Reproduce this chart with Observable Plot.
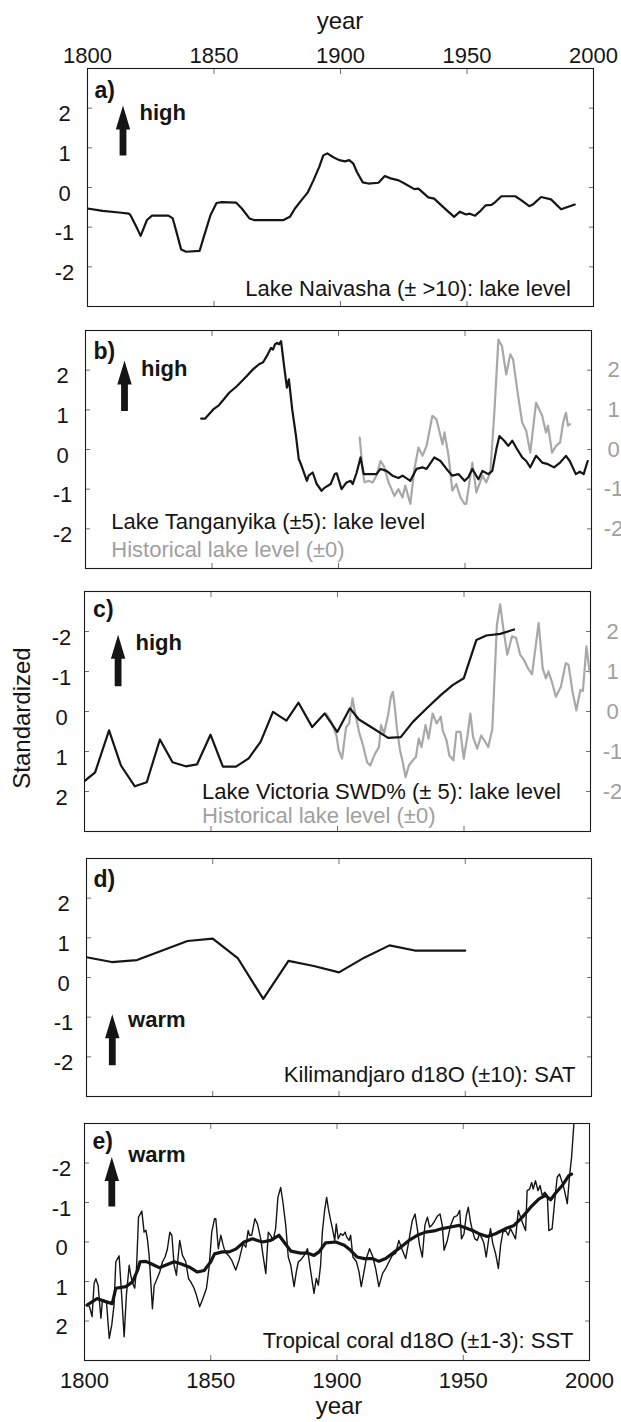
<!DOCTYPE html>
<html>
<head>
<meta charset="utf-8">
<script src="https://cdn.jsdelivr.net/npm/d3@7"></script>
<script src="https://cdn.jsdelivr.net/npm/@observablehq/plot@0.6"></script>
<style>
  html, body { margin: 0; padding: 0; background: #fff; }
  #chart { position: relative; width: 621px; height: 1422px; overflow: hidden;
           font-family: "Liberation Sans", Arial, Helvetica, sans-serif; color: #151515; }
  .title { position: absolute; font-size: 24px; line-height: 0.8; white-space: nowrap; }
</style>
</head>
<body>
<div id="chart"></div>
<script>
// ---------------- data ----------------
const xTickLabels = [1800, 1850, 1900, 1950, 2000];
const xTicksInner = [1850, 1900, 1950];
const yTicks = [-2, -1, 0, 1, 2];

// a) Lake Naivasha lake level [year, standardized]
const naivasha = [[1800,-0.53],[1806,-0.59],[1812.5,-0.63],[1816.4,-0.66],[1817,-0.70],[1819.6,-1.03],[1821,-1.22],[1823.5,-0.82],[1825.5,-0.71],[1832,-0.71],[1833.7,-0.78],[1835,-1.08],[1837,-1.56],[1839,-1.62],[1844.3,-1.60],[1846,-1.24],[1848.6,-0.70],[1851,-0.39],[1853,-0.37],[1858.7,-0.38],[1861,-0.53],[1864,-0.78],[1865.8,-0.82],[1877.5,-0.82],[1880,-0.74],[1882,-0.53],[1884.6,-0.32],[1887,-0.13],[1889.3,0.18],[1891.6,0.52],[1893.2,0.81],[1894.8,0.86],[1897,0.77],[1899.5,0.69],[1901.8,0.66],[1903.4,0.69],[1905,0.61],[1906.5,0.39],[1908.8,0.13],[1911,0.10],[1915,0.12],[1917.5,0.29],[1919.8,0.23],[1923,0.18],[1925.3,0.10],[1929.2,-0.04],[1930.8,-0.03],[1934.7,-0.25],[1937,-0.28],[1940.2,-0.47],[1944.9,-0.74],[1947.2,-0.61],[1949.6,-0.68],[1951.1,-0.66],[1953.2,-0.71],[1955,-0.61],[1957.4,-0.45],[1959.7,-0.44],[1961.3,-0.36],[1963.6,-0.22],[1969.1,-0.22],[1971.4,-0.32],[1974.6,-0.47],[1976.2,-0.42],[1979.3,-0.24],[1983.2,-0.30],[1987.2,-0.55],[1992.6,-0.43]];

// b) Lake Tanganyika lake level
const tanganyika = [[1845.7,0.78],[1847.3,0.78],[1850.5,1.01],[1852.8,1.12],[1856.8,1.43],[1859.9,1.60],[1863.1,1.81],[1866.2,2.02],[1868.6,2.15],[1870.2,2.20],[1871.7,2.36],[1873.3,2.56],[1874.1,2.52],[1874.9,2.65],[1875.7,2.69],[1876.5,2.65],[1877.3,2.73],[1878.5,2.10],[1879.6,1.56],[1880.4,1.77],[1881.7,1.01],[1883.2,0.34],[1884.3,-0.24],[1885.4,-0.41],[1887.5,-0.79],[1888.2,-0.66],[1889.8,-0.58],[1891.4,-0.87],[1893.3,-1.04],[1894.6,-0.96],[1896.9,-0.87],[1898.5,-0.62],[1899.3,-0.60],[1901.2,-1.00],[1903.2,-0.83],[1904.8,-0.79],[1905.6,-0.87],[1907.2,-0.58],[1908.7,-0.20],[1910,-0.62],[1915,-0.62],[1916.6,-0.49],[1919,-0.54],[1921.3,-0.66],[1923.7,-0.72],[1925.3,-0.66],[1928.4,-0.79],[1930.8,-0.49],[1933.2,-0.45],[1934.8,-0.49],[1937.9,-0.20],[1940.3,-0.29],[1942.7,-0.49],[1945,-0.66],[1947.4,-0.62],[1949.8,-0.79],[1951.3,-0.70],[1952.9,-0.49],[1955.3,-0.75],[1956.9,-0.54],[1959.2,-0.62],[1960.8,-0.54],[1962.4,0.01],[1963.6,0.34],[1965.5,0.22],[1967.1,0.09],[1968.7,0.22],[1970.2,0.05],[1972.6,-0.20],[1974.2,-0.29],[1975.8,-0.45],[1978.1,-0.16],[1980.5,-0.33],[1982.8,-0.37],[1985.2,-0.45],[1987.6,-0.33],[1989.9,-0.16],[1991.4,-0.29],[1993.8,-0.62],[1995.4,-0.56],[1996.9,-0.62],[1998.5,-0.29]];

// b) Historical lake level (right axis)
const tanganyikaHist = [[1908.4,0.30],[1909.6,-0.58],[1910.3,-0.83],[1911.9,-0.79],[1913.5,-0.83],[1915,-0.66],[1916.6,-0.29],[1917.9,-0.41],[1919.8,-0.83],[1922.1,-1.17],[1923.7,-1.00],[1925.3,-1.21],[1926.4,-0.91],[1928.4,-1.37],[1930,-0.49],[1931.6,0.05],[1933.2,-0.16],[1934.8,0.09],[1937.1,0.85],[1938.7,0.76],[1940,0.43],[1941.1,0.13],[1941.9,0.43],[1943.5,-0.16],[1945,-1.04],[1946.6,-0.87],[1948.2,-1.21],[1949.8,-1.37],[1950.5,-1.37],[1952.9,-0.33],[1954.5,-1.08],[1956.9,-0.66],[1958.4,-0.83],[1960,-0.58],[1961.6,0.93],[1963.2,2.77],[1964.6,2.61],[1966.3,1.89],[1967.9,2.40],[1969,2.27],[1971,1.35],[1972.6,0.68],[1974.2,0.47],[1975.8,-0.08],[1978.1,1.18],[1980.5,0.85],[1982,0.43],[1982.8,0.60],[1984.4,-0.08],[1986,0.09],[1987.6,0.18],[1988.8,0.68],[1989.9,0.93],[1990.7,0.60],[1991.5,0.64]];

// c) Lake Victoria SWD% (left axis, reversed)
const victoria = [[1800,1.74],[1804.2,1.52],[1809.7,0.47],[1814.4,1.35],[1819.9,1.87],[1824.6,1.77],[1829.8,0.70],[1834.8,1.27],[1840,1.37],[1844.5,1.32],[1849.8,0.58],[1854.7,1.38],[1859.9,1.38],[1864.9,1.17],[1869.6,0.76],[1874.5,0.01],[1879.8,0.23],[1884.6,-0.22],[1890,0.39],[1894.9,0.05],[1899.9,0.51],[1904.9,-0.08],[1908.5,0.20],[1914.8,0.45],[1920,0.66],[1925,0.64],[1929.8,0.26],[1935.3,-0.08],[1940.8,-0.41],[1945.5,-0.66],[1949.9,-0.83],[1954.9,-1.79],[1958.8,-1.90],[1964.3,-1.94],[1969.8,-2.05]];

// c) Historical lake level (right axis, normal orientation)
const victoriaHist = [[1895.5,-0.05],[1897.6,-0.26],[1899.6,-0.60],[1900.4,-0.95],[1901.8,-1.18],[1903.4,-0.39],[1904.6,-0.30],[1905.9,0.33],[1907,-0.05],[1908.5,-0.51],[1910.1,-0.85],[1911.7,-1.27],[1912.9,-1.35],[1914.8,-1.06],[1916.4,-0.89],[1917.2,-0.34],[1918.4,-0.55],[1920,-0.09],[1921.1,0.37],[1921.9,0.49],[1922.7,0.08],[1923.5,-0.43],[1924.7,-0.97],[1925.8,-1.27],[1926.9,-1.64],[1928.2,-1.35],[1929.8,-1.22],[1931,-1.14],[1932.1,-0.68],[1933.2,-0.89],[1934.8,-0.34],[1936,-0.68],[1937.6,-0.05],[1939.2,-0.30],[1940.8,-0.13],[1941.6,-0.47],[1943.1,-0.72],[1944.2,-1.10],[1945.8,-1.22],[1947,-0.51],[1948.6,-0.51],[1949.9,-1.18],[1951.4,-0.60],[1952.5,-0.05],[1953.6,-0.64],[1955.2,-0.93],[1956.8,-0.60],[1958,-0.72],[1959.6,-0.89],[1961.2,-0.43],[1961.9,0.58],[1963,2.17],[1964.3,2.68],[1965.5,2.09],[1967.1,1.42],[1969,1.88],[1970.6,1.84],[1972.2,1.42],[1973.7,1.29],[1975.3,1.08],[1976.9,0.93],[1979.5,2.21],[1981.1,1.08],[1982.4,0.83],[1983.4,1.00],[1984.7,0.75],[1986.3,0.37],[1988.3,0.62],[1990.2,1.21],[1991.3,1.17],[1992.9,0.49],[1994.4,0.03],[1996,0.54],[1997,0.51],[1998.4,1.63],[1999.6,1.00]];

// d) Kilimanjaro d18O
const kilimanjaro = [[1800,0.51],[1810,0.39],[1820,0.44],[1830,0.68],[1840,0.92],[1850,0.98],[1860,0.48],[1870,-0.54],[1880,0.42],[1890,0.29],[1900,0.13],[1910,0.50],[1920,0.81],[1930,0.68],[1940,0.68],[1950,0.68]];

// e) Tropical coral d18O (left axis, reversed): annual and smoothed
const coralAnnual = [[1801.2,1.59],[1802,1.64],[1803,1.89],[1803.8,1.05],[1804.5,0.93],[1805.4,1.10],[1806.5,1.93],[1807.1,1.47],[1807.8,1.47],[1808.7,1.51],[1809.8,2.44],[1810.8,2.10],[1811.7,1.59],[1812.4,0.50],[1813.7,0.35],[1814.8,1.43],[1815.7,2.40],[1816.6,1.34],[1817.7,0.59],[1818.3,0.84],[1818.9,1.01],[1819.9,1.17],[1820.6,0.67],[1821.4,-0.63],[1822.7,-0.78],[1823.6,-0.25],[1824.3,-0.30],[1824.9,-0.08],[1825.6,0.34],[1826.9,1.69],[1827.6,1.10],[1828.5,0.97],[1829.8,0.76],[1830.9,0.50],[1831.9,0.38],[1832.8,0.19],[1833.8,-0.25],[1834.6,-0.17],[1835.5,0.59],[1836.4,0.84],[1837.7,-0.04],[1838.8,0.34],[1840.1,0.50],[1841.2,0.93],[1842.1,1.01],[1843.4,1.17],[1844.3,1.34],[1845.6,1.64],[1846.9,1.43],[1848.3,1.17],[1849.3,0.67],[1850.4,-0.25],[1851.5,-0.59],[1852,-0.59],[1853,0.17],[1854,-0.17],[1854.9,0.08],[1855.7,0.25],[1857,0.34],[1858.3,0.46],[1859.9,0.71],[1861.2,0.46],[1862.8,0.04],[1863.9,0.13],[1864.8,-0.29],[1865.4,-0.17],[1866.2,-0.17],[1867.5,-0.59],[1868.5,-0.46],[1869.8,-0.08],[1870.7,0.34],[1871.8,0.80],[1872.8,-0.25],[1873.7,-0.17],[1874.7,-0.04],[1875.7,-0.34],[1876.6,-1.13],[1877.7,-1.38],[1878.6,-1.00],[1879.7,-0.42],[1880.7,0.38],[1881.7,0.59],[1883,1.13],[1883.9,0.75],[1884.7,0.50],[1885.6,0.46],[1887,0.34],[1888.3,0.17],[1889.6,0.75],[1890.9,1.30],[1891.8,0.92],[1892.6,1.09],[1893.5,0.59],[1894.2,-0.25],[1895.1,-0.80],[1895.9,-1.13],[1896.6,-0.84],[1897.5,-0.54],[1898.2,-0.34],[1899.1,-0.04],[1899.7,-0.46],[1900.5,-0.08],[1901.4,-0.21],[1902.4,-0.17],[1903.2,-0.25],[1903.8,-0.13],[1904.8,-0.04],[1905.4,-0.17],[1906.3,0.38],[1907.7,0.50],[1908.7,0.75],[1909.6,1.13],[1910.7,0.75],[1911.6,0.42],[1912.9,0.17],[1914,0.34],[1915.3,0.67],[1916.6,1.13],[1918,0.80],[1919.3,0.67],[1920.6,0.50],[1921.9,0.34],[1923.2,0.29],[1924.5,-0.04],[1925.9,0.21],[1927.2,0.42],[1928.5,-0.04],[1929.8,-0.54],[1930.9,-0.71],[1931.8,-0.34],[1932.7,0.08],[1933.8,0.38],[1934.8,-0.42],[1935.8,-0.63],[1936.7,-0.38],[1937.5,-0.42],[1938.4,-0.50],[1939.7,-0.65],[1940.8,-0.71],[1941.7,-0.42],[1942.4,0.21],[1943.7,-0.04],[1945,-0.42],[1946.3,-0.63],[1947.6,-0.67],[1948.6,-0.80],[1949.3,-0.08],[1950.3,-0.21],[1951.2,-0.67],[1952,-0.88],[1952.9,-0.50],[1953.8,-0.25],[1954.6,-0.08],[1955.5,-0.04],[1956.5,-0.21],[1957.5,-0.08],[1958.2,0.04],[1959.1,0.38],[1960.2,-0.13],[1960.8,-0.34],[1961.7,0.04],[1962.8,0.29],[1963.9,0.67],[1964.8,0.08],[1965.7,-0.25],[1966.8,-0.29],[1967.8,-0.17],[1968.7,-0.34],[1969.7,-0.21],[1970.7,-0.08],[1971.8,-0.80],[1972.7,-0.63],[1973.6,-0.46],[1974.7,-0.29],[1975.3,-1.30],[1976.3,-1.34],[1977.1,-1.51],[1977.7,-1.34],[1978.6,-1.55],[1979.6,-1.30],[1980.4,-1.43],[1981.3,-1.18],[1982.3,-1.26],[1983.3,-1.18],[1983.9,-0.29],[1985.2,-0.34],[1986.3,-1.09],[1987.2,-1.64],[1988.1,-1.72],[1989.2,-1.51],[1990.1,-1.30],[1991.2,-0.97],[1992.1,-1.68],[1992.9,-2.14],[1993.8,-2.98]];

const coralSmooth = [[1801,1.60],[1805,1.43],[1808.4,1.51],[1811,1.56],[1812.4,1.17],[1816.4,1.13],[1819,1.01],[1821,0.72],[1822,0.50],[1824.3,0.49],[1827,0.57],[1829.6,0.65],[1832.8,0.57],[1835.5,0.50],[1838.1,0.55],[1841.4,0.63],[1844.7,0.76],[1847.4,0.72],[1850,0.50],[1851.5,0.30],[1854.6,0.25],[1857.3,0.25],[1859.9,0.18],[1863.2,0.00],[1866.5,-0.08],[1870.4,0.00],[1873.7,-0.04],[1877,-0.17],[1879,0.00],[1881.7,0.23],[1885.6,0.28],[1888.3,0.28],[1890.9,0.34],[1892.9,0.25],[1895.5,0.02],[1899.5,0.00],[1902.9,0.08],[1905.4,0.21],[1908,0.38],[1910.7,0.42],[1914,0.42],[1916.6,0.49],[1919.3,0.42],[1921.9,0.29],[1925.2,0.13],[1928.5,-0.04],[1931.8,-0.17],[1935.1,-0.25],[1938.4,-0.28],[1941.7,-0.34],[1945,-0.38],[1948.3,-0.42],[1951.6,-0.34],[1954.4,-0.27],[1956.2,-0.21],[1959.5,-0.14],[1962.8,-0.21],[1966.8,-0.34],[1970.1,-0.42],[1973.4,-0.63],[1976.7,-0.88],[1980,-1.09],[1982.6,-1.18],[1984.6,-1.07],[1986.6,-1.24],[1989.2,-1.43],[1991.8,-1.68],[1992.9,-1.72]];

// ---------------- styling ----------------
const W = 621;
const FONT = '"Liberation Sans", Arial, Helvetica, sans-serif';
const BLACK = "#151515", GRAY = "#a8a8a8", GRAYTEXT = "#a0a0a0", TICK = "#707070";
const FS = 22;

const arrowShape = {
  draw(c, l) {
    const sw = 3.4, hw = 7.2, hl = 24;
    c.moveTo(-sw, 0);
    c.lineTo(-sw, -(l - hl));
    c.lineTo(-hw, -(l - hl));
    c.lineTo(0, -l);
    c.lineTo(hw, -(l - hl));
    c.lineTo(sw, -(l - hl));
    c.lineTo(sw, 0);
    c.closePath();
  }
};

function arrow(dx, dy, len) {
  return Plot.vector([0], {frameAnchor: "top-left", dx, dy, length: len, rotate: 0,
    anchor: "start", shape: arrowShape, fill: BLACK, stroke: "none"});
}
function note(txt, frameAnchor, dx, dy, opts = {}) {
  return Plot.text([txt], {text: d => d, frameAnchor, dx, dy, lineAnchor: "bottom",
    textAnchor: "start", fontSize: FS, fill: BLACK, ...opts});
}
function series(data, opts = {}) {
  return Plot.line(data, {x: d => d[0], y: d => d[1], stroke: BLACK, strokeWidth: 2.2,
    strokeLinejoin: "round", clip: true, ...opts});
}
function frameTicks() {
  return [
    Plot.axisX({anchor: "top", ticks: xTicksInner, tickSize: -5, fill: "none", stroke: TICK, label: null}),
    Plot.axisX({anchor: "bottom", ticks: xTicksInner, tickSize: -5, fill: "none", stroke: TICK, label: null}),
    Plot.axisY({anchor: "left", ticks: yTicks, tickSize: -5, fill: "none", stroke: TICK, label: null}),
    Plot.axisY({anchor: "right", ticks: yTicks, tickSize: -5, fill: "none", stroke: TICK, label: null}),
    Plot.axisY({anchor: "left", ticks: yTicks, tickSize: 0, tickPadding: 23, textAnchor: "middle",
      dy: 6, fontSize: FS, fill: BLACK, tickFormat: d => String(d), label: null}),
    Plot.frame({stroke: "#1a1a1a", strokeWidth: 1.1})
  ];
}

const chart = document.getElementById("chart");

function panel({top, left, right, h, reverse = false, mt = 10, mb = 10, marks}) {
  const p = Plot.plot({
    width: W, height: mt + h + mb,
    marginTop: mt, marginBottom: mb, marginLeft: left, marginRight: W - right,
    style: {fontFamily: FONT, background: "transparent", color: BLACK},
    x: {domain: [1800, 2000]},
    y: {domain: [-3, 3], reverse},
    marks
  });
  p.style.position = "absolute";
  p.style.left = "0px";
  p.style.top = (top - mt) + "px";
  chart.append(p);
}

// a)
panel({top: 68, left: 87, right: 593, h: 238, mt: 68, mb: 8, marks: [
  ...frameTicks(),
  Plot.axisX({anchor: "top", ticks: xTickLabels, tickSize: 0, tickPadding: 6, fontSize: FS,
    tickFormat: d => String(d), label: null}),
  series(naivasha),
  note("a)", "top-left", 7, 29, {fontWeight: "bold", fontSize: 23}),
  arrow(35.5, 87, 50),
  note("high", "top-left", 52, 51, {fontWeight: "bold"}),
  note("Lake Naivasha (± >10): lake level", "bottom-right", -22.5, -11, {textAnchor: "end"})
]});

// b)
panel({top: 330, left: 85, right: 591, h: 238, marks: [
  ...frameTicks(),
  Plot.axisY({anchor: "right", ticks: yTicks, tickSize: 0, tickPadding: 22, textAnchor: "middle",
    fontSize: FS, fill: GRAYTEXT, tickFormat: d => String(d), label: null}),
  series(tanganyikaHist, {stroke: GRAY, strokeWidth: 2.2}),
  series(tanganyika),
  note("b)", "top-left", 8, 28, {fontWeight: "bold", fontSize: 23}),
  arrow(39, 80.5, 50.5),
  note("high", "top-left", 55.5, 45, {fontWeight: "bold"}),
  note("Lake Tanganyika (±5): lake level", "bottom-left", 25.8, -40),
  note("Historical lake level (±0)", "bottom-left", 25.8, -11.6, {fill: GRAYTEXT})
]});

// c)
panel({top: 591, left: 84, right: 590, h: 240, reverse: true, marks: [
  ...frameTicks(),
  Plot.axisY({anchor: "right", ticks: yTicks, tickSize: 0, tickPadding: 22, textAnchor: "middle",
    fontSize: FS, fill: GRAYTEXT, tickFormat: d => String(-d), label: null}),
  series(victoriaHist, {y: d => -d[1], stroke: GRAY, strokeWidth: 2.2}),
  series(victoria),
  note("c)", "top-left", 8.6, 25.7, {fontWeight: "bold", fontSize: 23}),
  arrow(33.6, 94.7, 51.4),
  note("high", "top-left", 51, 58, {fontWeight: "bold"}),
  note("Lake Victoria SWD% (± 5): lake level", "bottom-left", 117.6, -33),
  note("Historical lake level (±0)", "bottom-left", 117.6, -9, {fill: GRAYTEXT})
]});

// d)
panel({top: 858, left: 86, right: 591, h: 238, marks: [
  ...frameTicks(),
  series(kilimanjaro),
  note("d)", "top-left", 7, 28, {fontWeight: "bold", fontSize: 23}),
  arrow(25.8, 206.7, 51),
  note("warm", "top-left", 41.6, 168, {fontWeight: "bold"}),
  note("Kilimandjaro d18O (±10): SAT", "bottom-right", -16, -15, {textAnchor: "end"})
]});

// e)
panel({top: 1123, left: 84, right: 589, h: 237, reverse: true, mb: 62, marks: [
  ...frameTicks(),
  Plot.axisX({anchor: "bottom", ticks: xTickLabels, tickSize: 0, tickPadding: 12, fontSize: FS,
    tickFormat: d => String(d), label: null}),
  series(coralAnnual, {strokeWidth: 1.4}),
  series(coralSmooth, {strokeWidth: 3.2}),
  note("e)", "top-left", 8, 25, {fontWeight: "bold", fontSize: 23}),
  arrow(27.3, 83, 49.6),
  note("warm", "top-left", 43.7, 38, {fontWeight: "bold"}),
  note("Tropical coral d18O (±1-3): SST", "bottom-right", -16, -12.7, {textAnchor: "end"})
]});

// axis titles
function title(txt, css) {
  const d = document.createElement("div");
  d.className = "title";
  d.textContent = txt;
  Object.assign(d.style, css);
  chart.append(d);
}
title("year", {left: "340px", top: "11px", transform: "translateX(-50%)"});
title("year", {left: "339px", top: "1396px", transform: "translateX(-50%)"});
title("Standardized", {left: "22px", top: "718px", transform: "translate(-50%, -50%) rotate(-90deg)"});
</script>
</body>
</html>
